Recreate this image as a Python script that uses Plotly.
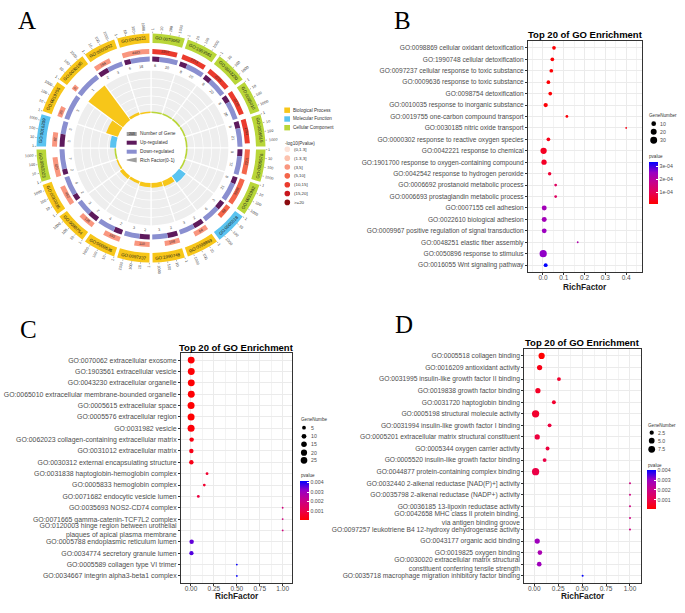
import math
import numpy as np
import plotly.graph_objects as go

W, H = 685, 613
FONT = "Liberation Sans, Arial, Helvetica, sans-serif"
SERIF = "Liberation Serif, Times New Roman, serif"


def px(x):
    return x / W


def py(y):
    return 1 - y / H


# ------------------------------------------------------------------ data: panel A
a_go_ids = ["GO:0070062", "GO:1903561", "GO:0043230", "GO:0065010", "GO:0005615",
            "GO:0005576", "GO:0031982", "GO:0005518", "GO:0098869", "GO:1990748",
            "GO:0097237", "GO:0009636", "GO:0098754", "GO:0010035", "GO:0062023",
            "GO:0016209", "GO:0019755", "GO:0030185", "GO:0000302", "GO:0042221"]
a_category = ["CC", "CC", "CC", "CC", "CC", "CC", "CC", "MF", "BP", "BP",
              "BP", "BP", "BP", "BP", "CC", "MF", "BP", "BP", "BP", "BP"]
a_rich_factor = [0.002, 0.003, 0.003, 0.003, 0.001, 0.001, 0.001, 0.077, 0.053, 0.045,
                 0.040, 0.026, 0.035, 0.013, 0.007, 0.056, 0.115, 0.400, 0.026, 0.003]
a_up = [8, 8, 8, 8, 8, 8, 8, 3, 2, 2, 2, 2, 2, 2, 2, 3, 0, 0, 2, 6]
a_down = [20, 20, 20, 20, 21, 21, 21, 6, 3, 3, 3, 4, 3, 6, 7, 3, 3, 1, 3, 18]
a_bg_genes = [2207, 2213, 2215, 2215, 1764, 2201, 3998, 68, 84, 108,
              110, 193, 136, 452, 420, 82, 26, 5, 194, 4483]
a_neglog10p = [12, 12, 12, 12, 11, 9, 8, 7, 4.5, 4.5, 4.5, 4.4, 4.4, 4.2, 4.0, 3.8, 3.7, 3.6, 4.0, 4.3]
a_tick_values = [1, 10, 100, 1000]
a_scale_max = 5000
a_cat_order = ["BP", "MF", "CC"]
a_cat_names = ["Biological Process", "Molecular Function", "Cellular Component"]
a_p_bins = [1.3, 3, 5, 10, 15, 20]
a_p_labels = ["(0,1.3]", "(1.3,3]", "(3,5]", "(5,10]", "(10,15]", "(15,20]", ">=20"]
a_center_labels = ["Number of Gene", "Up-regulated", "Down-regulated", "Rich Factor(0-1)"]

# ------------------------------------------------------------------ data: panel B
b_terms = ["GO:0098869 cellular oxidant detoxification",
           "GO:1990748 cellular detoxification",
           "GO:0097237 cellular response to toxic substance",
           "GO:0009636 response to toxic substance",
           "GO:0098754 detoxification",
           "GO:0010035 response to inorganic substance",
           "GO:0019755 one-carbon compound transport",
           "GO:0030185 nitric oxide transport",
           "GO:0000302 response to reactive oxygen species",
           "GO:0042221 response to chemical",
           "GO:1901700 response to oxygen-containing compound",
           "GO:0042542 response to hydrogen peroxide",
           "GO:0006692 prostanoid metabolic process",
           "GO:0006693 prostaglandin metabolic process",
           "GO:0007155 cell adhesion",
           "GO:0022610 biological adhesion",
           "GO:0009967 positive regulation of signal transduction",
           "GO:0048251 elastic fiber assembly",
           "GO:0050896 response to stimulus",
           "GO:0016055 Wnt signaling pathway"]
b_rich = [0.053, 0.045, 0.040, 0.026, 0.035, 0.013, 0.115, 0.400, 0.026, 0.003,
          0.005, 0.032, 0.061, 0.061, 0.006, 0.006, 0.006, 0.167, 0.001, 0.013]
b_genes = [5, 5, 5, 5, 5, 8, 2, 1, 5, 23, 14, 4, 2, 2, 12, 12, 11, 1, 33, 6]
b_pvalue = [2e-5, 2e-5, 2e-5, 2e-5, 2e-5, 2.2e-5, 2.5e-5, 3.5e-5, 4e-5, 5e-5,
            5.5e-5, 7e-5, 1.2e-4, 1.2e-4, 2.4e-4, 2.4e-4, 2.5e-4, 2.2e-4, 2.6e-4, 3.35e-4]
b_xticks = [0.0, 0.1, 0.2, 0.3, 0.4]
b_xticktext = ["0.0", "0.1", "0.2", "0.3", "0.4"]
b_size_legend = [10, 20, 30]
b_cbar_ticks = [1e-4, 2e-4, 3e-4]
b_cbar_text = ["1e-04", "2e-04", "3e-04"]

# ------------------------------------------------------------------ data: panel C
c_terms = ["GO:0070062 extracellular exosome",
           "GO:1903561 extracellular vesicle",
           "GO:0043230 extracellular organelle",
           "GO:0065010 extracellular membrane-bounded organelle",
           "GO:0005615 extracellular space",
           "GO:0005576 extracellular region",
           "GO:0031982 vesicle",
           "GO:0062023 collagen-containing extracellular matrix",
           "GO:0031012 extracellular matrix",
           "GO:0030312 external encapsulating structure",
           "GO:0031838 haptoglobin-hemoglobin complex",
           "GO:0005833 hemoglobin complex",
           "GO:0071682 endocytic vesicle lumen",
           "GO:0035693 NOS2-CD74 complex",
           "GO:0071665 gamma-catenin-TCF7L2 complex",
           "GO:0120003 hinge region between urothelial<br>plaques of apical plasma membrane",
           "GO:0005788 endoplasmic reticulum lumen",
           "GO:0034774 secretory granule lumen",
           "GO:0005589 collagen type VI trimer",
           "GO:0034667 integrin alpha3-beta1 complex"]
c_rich = [0.002, 0.003, 0.003, 0.003, 0.001, 0.001, 0.001, 0.007, 0.004, 0.004,
          0.175, 0.145, 0.08, 1.0, 1.0, 1.0, 0.007, 0.005, 0.5, 0.5]
c_genes = [27, 27, 27, 27, 28, 28, 28, 8, 8, 8, 2, 2, 2, 1, 1, 1, 8, 7, 1, 1]
c_pvalue = [1.5e-4, 1.5e-4, 1.5e-4, 1.5e-4, 1.2e-4, 1.2e-4, 2e-4, 3e-4, 4e-4, 4e-4,
            7e-4, 7e-4, 9e-4, 0.0019, 0.0019, 0.0019, 0.0035, 0.0036, 0.0041, 0.0041]
c_xticks = [0.0, 0.25, 0.5, 0.75, 1.0]
c_xticktext = ["0.00", "0.25", "0.50", "0.75", "1.00"]
c_size_legend = [5, 10, 15, 20, 25]
c_cbar_ticks = [0.001, 0.002, 0.003, 0.004]
c_cbar_text = ["0.001", "0.002", "0.003", "0.004"]

# ------------------------------------------------------------------ data: panel D
d_terms = ["GO:0005518 collagen binding",
           "GO:0016209 antioxidant activity",
           "GO:0031995 insulin-like growth factor II binding",
           "GO:0019838 growth factor binding",
           "GO:0031720 haptoglobin binding",
           "GO:0005198 structural molecule activity",
           "GO:0031994 insulin-like growth factor I binding",
           "GO:0005201 extracellular matrix structural constituent",
           "GO:0005344 oxygen carrier activity",
           "GO:0005520 insulin-like growth factor binding",
           "GO:0044877 protein-containing complex binding",
           "GO:0032440 2-alkenal reductase [NAD(P)+] activity",
           "GO:0035798 2-alkenal reductase (NADP+) activity",
           "GO:0036185 13-lipoxin reductase activity",
           "GO:0042658 MHC class II protein binding,<br>via antigen binding groove",
           "GO:0097257 leukotriene B4 12-hydroxy dehydrogenase activity",
           "GO:0043177 organic acid binding",
           "GO:0019825 oxygen binding",
           "GO:0030020 extracellular matrix structural<br>constituent conferring tensile strength",
           "GO:0035718 macrophage migration inhibitory factor binding"]
d_rich = [0.077, 0.056, 0.258, 0.038, 0.205, 0.014, 0.160, 0.031, 0.139, 0.108,
          0.014, 1.0, 1.0, 1.0, 1.0, 1.0, 0.031, 0.059, 0.052, 0.505]
d_genes = [6, 4, 2, 4, 2, 9, 2, 4, 2, 2, 9, 1, 1, 1, 1, 1, 4, 3, 3, 1]
d_pvalue = [2e-5, 3e-4, 6e-4, 5e-4, 6e-4, 6e-4, 8e-4, 8e-4, 8e-4, 9e-4,
            9e-4, 0.0019, 0.0019, 0.0019, 0.0019, 0.0019, 0.0029, 0.0027, 0.0029, 0.004]
d_xticks = c_xticks
d_xticktext = c_xticktext
d_size_legend = [2.5, 5.0, 7.5]
d_size_text = ["2.5", "5.0", "7.5"]
d_cbar_ticks = [0.001, 0.002, 0.003, 0.004]
d_cbar_text = ["0.001", "0.002", "0.003", "0.004"]

# ------------------------------------------------------------------ styles
CAT_COLORS = {"BP": "#F7C619", "MF": "#5AC3F0", "CC": "#B9D638"}
P_COLORS = ["#FDE3D8", "#FCC2AE", "#F9967F", "#F4654A", "#EB3B2D", "#C9161D", "#8B0A0E"]
UP_COLOR, DOWN_COLOR, GRAY_BG = "#5E1A5C", "#8A8FD0", "#EEEEEE"
GG_SCALE = [[0.0, "#FF0000"], [0.25, "#E8004F"], [0.5, "#C90089"], [0.75, "#9A00C3"], [1.0, "#0000FF"]]
TXT = "#4D4D4D"

fig = go.Figure()
annotations = []
shapes = []


def ann(x, y, text, size, color="#222222", angle=0, xanchor="center", family=FONT):
    annotations.append(dict(x=px(x), y=py(y), xref="paper", yref="paper", text=text,
                            showarrow=False, textangle=angle, xanchor=xanchor, yanchor="middle",
                            font=dict(size=size, color=color, family=family), borderpad=0))


# ------------------------------------------------------------------ panel A (circular GO plot)
cx, cy, RD = 151.0, 148.0, 130.0
n = len(a_go_ids)
sec = 360.0 / n
gap = 1.6
span = sec - gap
starts = [i * sec + gap / 2 for i in range(n)]
centers = [i * sec + sec / 2 for i in range(n)]
R_IN, R_GRAY = 35.0, 78.0
R_UD0, R_UD1 = 86.5, 91.5
R_BG0, R_BG1 = 94.0, 99.0
R_OUT0, R_OUT1 = 105.0, 114.5

common = dict(subplot="polar", hoverinfo="skip", showlegend=False)
fig.add_trace(go.Barpolar(theta=centers, r=[R_GRAY - R_IN] * n, base=R_IN, width=[sec] * n,
                          marker=dict(color=GRAY_BG, line=dict(color="white", width=1.2)), **common))
for k in range(1, 5):
    rg = R_IN + k * (R_GRAY - R_IN) / 5
    fig.add_trace(go.Barpolar(theta=centers, r=[0.7] * n, base=rg - 0.35, width=[sec] * n,
                              marker=dict(color="white", line=dict(width=0)), **common))

max_rf = max(a_rich_factor)
for cat in a_cat_order:
    idx = [i for i in range(n) if a_category[i] == cat]
    fig.add_trace(go.Barpolar(
        theta=[centers[i] for i in idx],
        r=[max(a_rich_factor[i] / max_rf * (R_GRAY - R_IN), 1.6) for i in idx],
        base=R_IN, width=[sec - 1.2] * len(idx),
        marker=dict(color=CAT_COLORS[cat], line=dict(width=0)), **common))

up_t, up_w, dn_t, dn_w = [], [], [], []
for i in range(n):
    tot = a_up[i] + a_down[i]
    wu = span * a_up[i] / tot
    wd = span - wu
    if a_up[i] > 0:
        up_t.append(starts[i] + wu / 2)
        up_w.append(wu)
    dn_t.append(starts[i] + wu + wd / 2)
    dn_w.append(wd)
fig.add_trace(go.Barpolar(theta=up_t, r=[R_UD1 - R_UD0] * len(up_t), base=R_UD0, width=up_w,
                          marker=dict(color=UP_COLOR, line=dict(width=0)), **common))
fig.add_trace(go.Barpolar(theta=dn_t, r=[R_UD1 - R_UD0] * len(dn_t), base=R_UD0, width=dn_w,
                          marker=dict(color=DOWN_COLOR, line=dict(width=0)), **common))


def p_color(v):
    for j, b in enumerate(a_p_bins):
        if v <= b:
            return P_COLORS[j]
    return P_COLORS[-1]


bg_frac = [min(max(math.log10(v) / math.log10(a_scale_max), 0.12), 1.0) for v in a_bg_genes]
bg_w = [span * f for f in bg_frac]
bg_t = [starts[i] + bg_w[i] / 2 for i in range(n)]
fig.add_trace(go.Barpolar(theta=bg_t, r=[R_BG1 - R_BG0] * n, base=R_BG0, width=bg_w,
                          marker=dict(color=[p_color(v) for v in a_neglog10p], line=dict(width=0)),
                          **common))
fig.add_trace(go.Barpolar(theta=centers, r=[R_OUT1 - R_OUT0] * n, base=R_OUT0, width=[span] * n,
                          marker=dict(color=[CAT_COLORS[c] for c in a_category], line=dict(width=0)),
                          **common))

tick_r, tick_t = [], []
for i in range(n):
    for v in a_tick_values:
        th = starts[i] + span * math.log10(v) / math.log10(a_scale_max)
        tick_r += [R_OUT1 + 0.3, R_OUT1 + 1.8, None]
        tick_t += [th, th, None]
fig.add_trace(go.Scatterpolar(r=tick_r, theta=tick_t, mode="lines",
                              line=dict(color="#666666", width=0.5), **common))


def pol(r, th):
    a = math.radians(th)
    return cx + r * math.sin(a), cy - r * math.cos(a)


def tang(th):
    th = th % 360
    a = th if (th <= 90 or th >= 270) else th - 180
    return a - 360 if a > 180 else a


def radial(th):
    th = th % 360
    return th - 90 if th < 180 else th - 270


for i in range(n):
    x, y = pol((R_OUT0 + R_OUT1) / 2, centers[i])
    ann(x, y, a_go_ids[i], 4.4, "#1A1A1A", tang(centers[i]))
    x, y = pol((R_BG0 + R_BG1) / 2, bg_t[i])
    ann(x, y, str(a_bg_genes[i]), 3.6, "#3A2A2A", tang(bg_t[i]))
    tot = a_up[i] + a_down[i]
    wu = span * a_up[i] / tot
    if a_up[i] > 0:
        x, y = pol(82.0, starts[i] + wu / 2)
        ann(x, y, str(a_up[i]), 3.8, "#444444", tang(starts[i] + wu / 2))
    th_d = starts[i] + wu + (span - wu) / 2
    x, y = pol(82.0, th_d)
    ann(x, y, str(a_down[i]), 3.8, "#444444", tang(th_d))
    for v in a_tick_values:
        th = starts[i] + span * math.log10(v) / math.log10(a_scale_max)
        lab = str(v)
        x, y = pol(R_OUT1 + 2.8 + len(lab) * 1.15, th)
        ann(x, y, lab, 3.8, "#444444", radial(th))

# centre legend
box_x0, box_x1 = 126.7, 136.7
center_ys = [134.0, 142.7, 151.7, 160.0]
shapes.append(dict(type="rect", xref="paper", yref="paper", x0=px(box_x0), x1=px(box_x1),
                   y0=py(center_ys[0] + 2), y1=py(center_ys[0] - 2), fillcolor="#9E9E9E", line=dict(width=0)))
ann((box_x0 + box_x1) / 2, center_ys[0], "203", 3.4, "#222222")
shapes.append(dict(type="rect", xref="paper", yref="paper", x0=px(box_x0), x1=px(box_x1),
                   y0=py(center_ys[1] + 2), y1=py(center_ys[1] - 2), fillcolor=UP_COLOR, line=dict(width=0)))
shapes.append(dict(type="rect", xref="paper", yref="paper", x0=px(box_x0), x1=px(box_x1),
                   y0=py(center_ys[2] + 2), y1=py(center_ys[2] - 2), fillcolor=DOWN_COLOR, line=dict(width=0)))
yc = center_ys[3]
path = "M {} {} L {} {} L {} {} L {} {} Z".format(px(box_x0), py(yc - 0.6), px(box_x1), py(yc - 2.5),
                                                  px(box_x1), py(yc + 2.5), px(box_x0), py(yc + 0.6))
shapes.append(dict(type="path", xref="paper", yref="paper", path=path, fillcolor="#9E9E9E", line=dict(width=0)))
for lab, yy in zip(a_center_labels, center_ys):
    ann(139.3, yy, lab, 4.8, "#333333", xanchor="left")

# right legend of panel A
cat_ys = [110.2, 119.0, 127.7]
for cat, name, yy in zip(a_cat_order, a_cat_names, cat_ys):
    shapes.append(dict(type="rect", xref="paper", yref="paper", x0=px(284.3), x1=px(290.0),
                       y0=py(yy + 2.7), y1=py(yy - 2.7), fillcolor=CAT_COLORS[cat], line=dict(width=0)))
    ann(291.7, yy, name, 4.6, "#333333", xanchor="left")
ann(284.3, 143.3, "-log10(Pvalue)", 4.6, "#333333", xanchor="left")
for j, lab in enumerate(a_p_labels):
    yy = 149.3 + 8.85 * j
    shapes.append(dict(type="circle", xref="paper", yref="paper", x0=px(284.5), x1=px(290.1),
                       y0=py(yy + 2.8), y1=py(yy - 2.8), fillcolor=P_COLORS[j], line=dict(width=0)))
    ann(293.3, yy, lab, 4.4, "#333333", xanchor="left")


# ------------------------------------------------------------------ dot plots
def dot_sizes(vals, vmin, vmax, dmin, dmax):
    return [dmin + (dmax - dmin) * math.sqrt(max(v - vmin, 0) / (vmax - vmin)) for v in vals]


def standoff_ok():
    try:
        go.layout.XAxis(ticklabelstandoff=-3)
        return True
    except Exception:
        return False


STANDOFF = standoff_ok()


def dot_panel(k, terms, rich, genes, pvals, box, xrange_, xticks, xtext, dtick_minor,
              size_args, cax, cmin, cmax, cbar, label_size):
    xa = "x" if k == 1 else "x%d" % k
    ya = "y" if k == 1 else "y%d" % k
    yidx = list(range(len(terms)))
    fig.add_trace(go.Scatter(
        x=rich, y=yidx, mode="markers", xaxis=xa, yaxis=ya, showlegend=False, hoverinfo="skip",
        marker=dict(size=dot_sizes(genes, *size_args), color=pvals, coloraxis=cax,
                    line=dict(width=0), opacity=1)))
    x0, x1, y0, y1 = box
    axname = "xaxis" if k == 1 else "xaxis%d" % k
    ayname = "yaxis" if k == 1 else "yaxis%d" % k
    xd = dict(
        domain=[px(x0), px(x1)], anchor=ya, range=xrange_, tickvals=xticks, ticktext=xtext,
        showgrid=True, gridcolor="#EBEBEB", gridwidth=0.7,
        minor=dict(dtick=dtick_minor, tick0=0, showgrid=True, gridcolor="#F3F3F3", gridwidth=0.4),
        showline=True, mirror=True, linecolor="#333333", linewidth=1,
        ticks="outside", ticklen=2, tickcolor="#333333", tickwidth=0.8, automargin=False,
        tickfont=dict(size=6.5, color=TXT, family=FONT), zeroline=False)
    if STANDOFF:
        xd["ticklabelstandoff"] = -3
    layout_axes[axname] = xd
    layout_axes[ayname] = dict(
        domain=[py(y1), py(y0)], anchor=xa, range=[len(terms) - 1 + 0.6, -0.6],
        tickvals=yidx, ticktext=terms, showgrid=True, gridcolor="#EBEBEB", gridwidth=0.7,
        showline=True, mirror=True, linecolor="#333333", linewidth=1, automargin=False,
        ticks="outside", ticklen=2, tickcolor="#333333", tickwidth=0.8,
        tickfont=dict(size=label_size, color=TXT, family=FONT), zeroline=False)
    bx, by0, by1, ticks, ticktext = cbar
    coloraxes[cax] = dict(
        colorscale=GG_SCALE, cmin=cmin, cmax=cmax,
        colorbar=dict(x=px(bx), xanchor="left", y=py(by0), yanchor="top",
                      len=by1 - by0, lenmode="pixels", thickness=8.5, thicknessmode="pixels",
                      outlinewidth=0, tickvals=ticks, ticktext=ticktext, ticks="inside",
                      tickcolor="white", ticklen=2, tickwidth=0.8, xpad=0, ypad=0,
                      tickfont=dict(size=5.2, color=TXT, family=FONT)))


layout_axes = {}
coloraxes = {}

b_size = (1, 33, 1.8, 7.2)
c_size = (1, 28, 1.8, 7.0)
d_size = (1, 9, 2.0, 7.3)

dot_panel(1, b_terms, b_rich, b_genes, b_pvalue, (528, 642, 41, 272), [-0.072, 0.476],
          b_xticks, b_xticktext, 0.05, b_size, "coloraxis", 1.6e-5, 3.35e-4,
          (649.3, 161.7, 203.3, b_cbar_ticks, b_cbar_text), 6.6)
dot_panel(2, c_terms, c_rich, c_genes, c_pvalue, (181, 292.3, 353.3, 582.7), [-0.109, 1.105],
          c_xticks, c_xticktext, 0.125, c_size, "coloraxis2", 1.0e-4, 4.14e-3,
          (300.0, 481.0, 520.0, c_cbar_ticks, c_cbar_text), 6.9)
dot_panel(3, d_terms, d_rich, d_genes, d_pvalue, (524.3, 641, 349, 582.7), [-0.104, 1.115],
          d_xticks, d_xticktext, 0.125, d_size, "coloraxis3", 2.0e-5, 4.01e-3,
          (647.3, 470.3, 509.3, d_cbar_ticks, d_cbar_text), 6.7)

# titles and axis titles
for (tx, ty) in [(585, 34.3), (236.7, 347.7), (582.7, 342.0)]:
    ann(tx, ty, "<b>Top 20 of GO Enrichment</b>", 9.5, "#000000")
for (tx, ty) in [(585, 286.5), (236.7, 595.5), (582.7, 595.5)]:
    ann(tx, ty, "<b>RichFactor</b>", 8.3, "#1A1A1A")


def size_legend(title, tx, ty, dot_x, ys, vals, texts, size_args):
    ann(tx, ty, title, 4.6, "#333333", xanchor="left")
    ds = dot_sizes(vals, *size_args)
    for yy, d, t in zip(ys, ds, texts):
        shapes.append(dict(type="circle", xref="paper", yref="paper", x0=px(dot_x - d / 2),
                           x1=px(dot_x + d / 2), y0=py(yy + d / 2), y1=py(yy - d / 2),
                           fillcolor="#000000", line=dict(width=0)))
        ann(dot_x + 5.6, yy, t, 5.2, TXT, xanchor="left")


size_legend("GeneNumber", 648.0, 115.7, 653.7, [123.7, 131.7, 140.3], b_size_legend,
            [str(v) for v in b_size_legend], b_size)
size_legend("GeneNumbe", 300.0, 419.0, 304.0, [427.7, 436.3, 444.3, 452.7, 460.3], c_size_legend,
            [str(v) for v in c_size_legend], c_size)
size_legend("GeneNumber", 647.3, 425.0, 651.7, [432.7, 440.7, 449.3], d_size_legend,
            d_size_text, d_size)
ann(648.0, 156.7, "pvalue", 4.6, "#333333", xanchor="left")
ann(300.0, 475.7, "pvalue", 4.6, "#333333", xanchor="left")
ann(647.3, 465.3, "pvalue", 4.6, "#333333", xanchor="left")

# panel letters
for lab, (lx, ly) in zip(["A", "B", "C", "D"], [(27, 20), (402, 20), (28, 329), (404, 324)]):
    ann(lx, ly, lab, 25, "#000000", family=SERIF)

fig.update_layout(
    width=W, height=H, margin=dict(l=0, r=0, t=0, b=0, pad=0, autoexpand=False),
    paper_bgcolor="white", plot_bgcolor="white", showlegend=False,
    polar=dict(domain=dict(x=[px(cx - RD), px(cx + RD)], y=[py(cy + RD), py(cy - RD)]),
               bgcolor="rgba(0,0,0,0)", hole=0, bargap=0, barmode="overlay",
               radialaxis=dict(visible=False, range=[0, RD]),
               angularaxis=dict(visible=False, rotation=90, direction="clockwise")),
    annotations=annotations, shapes=shapes,
    font=dict(family=FONT),
    **layout_axes, **coloraxes)

fig.write_html("out.html", config={"displayModeBar": False},
               post_script="document.body.style.margin='0px';document.body.style.padding='0px';"
                           "document.body.style.overflow='hidden';")
